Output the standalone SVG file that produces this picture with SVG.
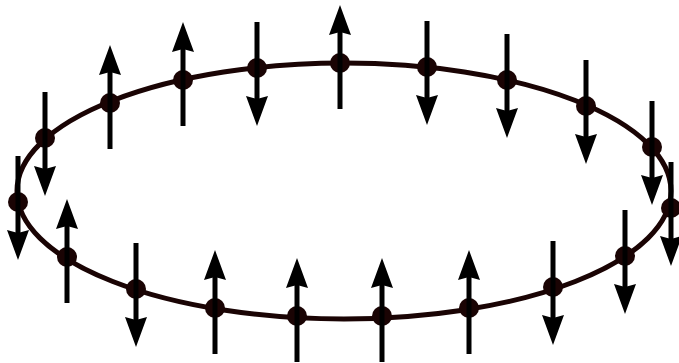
<svg xmlns="http://www.w3.org/2000/svg" xmlns:xlink="http://www.w3.org/1999/xlink" width="679" height="363" viewBox="0 0 679 363">
<style>
.ring{fill:none;stroke:#1a0404;stroke-width:5}
.dot{fill:#1a0404}
.shaft{stroke:#000;stroke-width:5}
.head{fill:#000}
</style>
<defs>
<g id="up"><line class="shaft" x1="0" y1="46" x2="0" y2="-32"/><polygon class="head" points="0,-58 11,-28 0,-31 -11,-28"/></g>
<g id="down"><line class="shaft" x1="0" y1="-46" x2="0" y2="32"/><polygon class="head" points="0,58 11,28 0,31 -11,28"/></g>
</defs>
<rect width="679" height="363" fill="#fff"/>
<g id="connectors"><ellipse class="ring" cx="344" cy="191" rx="327" ry="128"/></g>
<g id="n1"><circle class="dot" cx="18" cy="202" r="10"/><use href="#down" x="18" y="202"/></g>
<g id="n2"><circle class="dot" cx="45" cy="138" r="10"/><use href="#down" x="45" y="138"/></g>
<g id="n3"><circle class="dot" cx="110" cy="103" r="10"/><use href="#up" x="110" y="103"/></g>
<g id="n4"><circle class="dot" cx="183" cy="80" r="10"/><use href="#up" x="183" y="80"/></g>
<g id="n5"><circle class="dot" cx="257" cy="68" r="10"/><use href="#down" x="257" y="68"/></g>
<g id="n6"><circle class="dot" cx="340" cy="63" r="10"/><use href="#up" x="340" y="63"/></g>
<g id="n7"><circle class="dot" cx="427" cy="67" r="10"/><use href="#down" x="427" y="67"/></g>
<g id="n8"><circle class="dot" cx="507" cy="80" r="10"/><use href="#down" x="507" y="80"/></g>
<g id="n9"><circle class="dot" cx="586" cy="106" r="10"/><use href="#down" x="586" y="106"/></g>
<g id="n10"><circle class="dot" cx="652" cy="147" r="10"/><use href="#down" x="652" y="147"/></g>
<g id="n11"><circle class="dot" cx="671" cy="208" r="10"/><use href="#down" x="671" y="208"/></g>
<g id="n12"><circle class="dot" cx="625" cy="256" r="10"/><use href="#down" x="625" y="256"/></g>
<g id="n13"><circle class="dot" cx="553" cy="287" r="10"/><use href="#down" x="553" y="287"/></g>
<g id="n14"><circle class="dot" cx="469" cy="308" r="10"/><use href="#up" x="469" y="308"/></g>
<g id="n15"><circle class="dot" cx="382" cy="316" r="10"/><use href="#up" x="382" y="316"/></g>
<g id="n16"><circle class="dot" cx="297" cy="316" r="10"/><use href="#up" x="297" y="316"/></g>
<g id="n17"><circle class="dot" cx="215" cy="308" r="10"/><use href="#up" x="215" y="308"/></g>
<g id="n18"><circle class="dot" cx="136" cy="289" r="10"/><use href="#down" x="136" y="289"/></g>
<g id="n19"><circle class="dot" cx="67" cy="257" r="10"/><use href="#up" x="67" y="257"/></g>
</svg>
